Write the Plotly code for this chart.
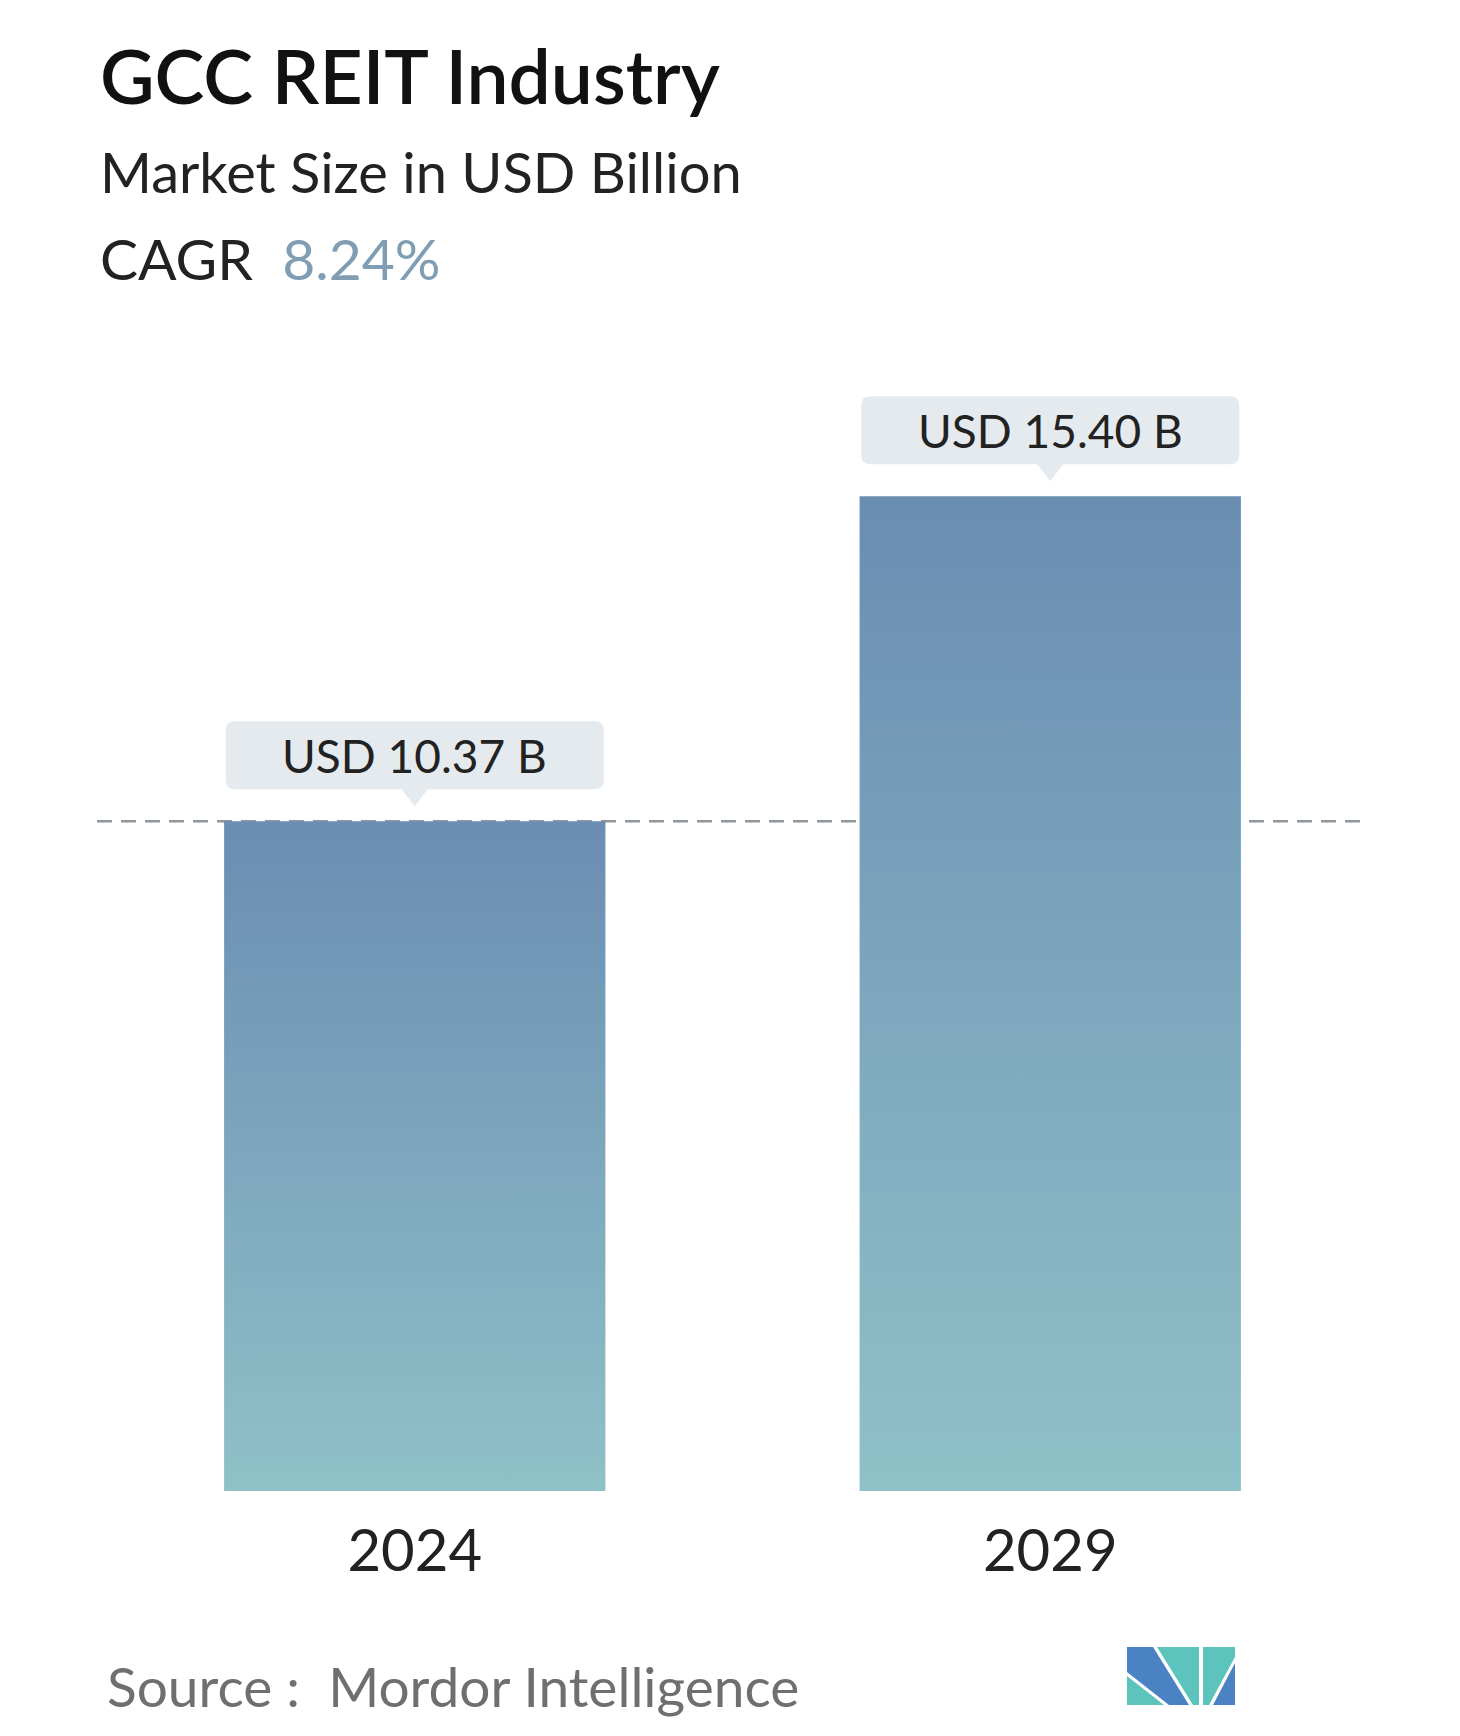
import plotly.graph_objects as go

# ---- data ----
years = ["2024", "2029"]
values = [10.37, 15.40]
labels = ["USD 10.37 B", "USD 15.40 B"]
title_text = "GCC REIT Industry"
subtitle_text = "Market Size in USD Billion"
cagr_label = "CAGR"
cagr_value = "8.24%"
source_text = "Source :  Mordor Intelligence"

# ---- layout geometry (pixels) ----
W, H = 1460, 1736
ML, MR, MT, MB = 97, 92, 300, 245
PW = W - ML - MR
PH = H - MT - MB
YMAX = 18.44
BAR_W = 0.6

def px2paper_x(px):
    return (px - ML) / PW

def px2paper_y(py):
    return (H - MB - py) / PH

FONT = "Lato"
TOP_C = "#6a8db2"
BOT_C = "#8fc1c8"

fig = go.Figure()

# bars drawn as filled polygons with vertical gradient
for i, v in enumerate(values):
    x0, x1 = i - BAR_W / 2, i + BAR_W / 2
    fig.add_trace(go.Scatter(
        x=[x0, x0, x1, x1, x0],
        y=[0, v, v, 0, 0],
        mode="lines",
        line=dict(width=0),
        fill="toself",
        fillgradient=dict(type="vertical", start=0, stop=v,
                          colorscale=[[0, BOT_C], [1, TOP_C]]),
        hoverinfo="skip",
        showlegend=False,
    ))

shapes = []
# dashed reference line at first value
shapes.append(dict(type="line", xref="paper", x0=0, x1=1, yref="y",
                   y0=values[0], y1=values[0], layer="below",
                   line=dict(color="#8f969d", width=2.5, dash="15px,9px")))

# callout boxes (pixel-sized, anchored at bar tops)
L, R, B, T, r, ph, tip = -189, 189, 32, 100, 9, 13, 15
callout = (f"M {L+r},{B} L {-ph},{B} L 0,{tip} L {ph},{B} L {R-r},{B} "
           f"Q {R},{B} {R},{B+r} L {R},{T-r} Q {R},{T} {R-r},{T} "
           f"L {L+r},{T} Q {L},{T} {L},{T-r} L {L},{B+r} Q {L},{B} {L+r},{B} Z")
for i, v in enumerate(values):
    shapes.append(dict(type="path", xref="x", yref="y",
                       xsizemode="pixel", ysizemode="pixel",
                       xanchor=i, yanchor=v, path=callout,
                       fillcolor="#e4eaee", line=dict(width=0)))

# logo (pixel-sized, anchored bottom-left)
logo_x, logo_y = px2paper_x(1127), px2paper_y(1705)
BLUE, TEAL = "#4b82c3", "#5cc3bd"
logo_polys = [
    ("M 0,29 L 0,0 L 37,0 Z", TEAL),
    ("M 0,58 L 26,58 L 62,0 L 42,0 L 0,33 Z", BLUE),
    ("M 30,58 L 72,58 L 72,0 L 66,0 Z", TEAL),
    ("M 76,58 L 108,58 L 108,48 L 82,0 L 76,0 Z", TEAL),
    ("M 108,42 L 108,0 L 86,0 Z", BLUE),
]
for p, c in logo_polys:
    shapes.append(dict(type="path", xref="paper", yref="paper",
                       xsizemode="pixel", ysizemode="pixel",
                       xanchor=logo_x, yanchor=logo_y, path=p,
                       fillcolor=c, line=dict(width=0)))

annotations = []
for i, v in enumerate(values):
    annotations.append(dict(x=i, y=v, xref="x", yref="y", text=labels[i],
                            showarrow=False, yshift=66, yanchor="middle",
                            font=dict(family=FONT, size=46, color="#222222")))

annotations += [
    dict(x=px2paper_x(98), y=px2paper_y(75), xref="paper", yref="paper",
         text=title_text, showarrow=False, xanchor="left", yanchor="middle",
         font=dict(family=FONT, size=75, color="#111111", weight=600)),
    dict(x=px2paper_x(98), y=px2paper_y(172), xref="paper", yref="paper",
         text=subtitle_text, showarrow=False, xanchor="left", yanchor="middle",
         font=dict(family=FONT, size=56, color="#222222")),
    dict(x=px2paper_x(98), y=px2paper_y(258), xref="paper", yref="paper",
         text=f"{cagr_label}&nbsp;&nbsp;<span style='color:#7f9db3'>{cagr_value}</span>",
         showarrow=False, xanchor="left", yanchor="middle",
         font=dict(family=FONT, size=57, color="#222222")),
    dict(x=px2paper_x(105), y=px2paper_y(1686), xref="paper", yref="paper",
         text=source_text, showarrow=False, xanchor="left", yanchor="middle",
         font=dict(family=FONT, size=55, color="#6f6f6f")),
]

fig.update_layout(
    width=W, height=H,
    margin=dict(l=ML, r=MR, t=MT, b=MB, pad=0),
    paper_bgcolor="white", plot_bgcolor="white",
    showlegend=False,
    xaxis=dict(range=[-0.5, 1.5], tickvals=[0, 1], ticktext=years,
               showgrid=False, zeroline=False, showline=False, ticks="",
               ticklabelstandoff=21,
               tickfont=dict(family=FONT, size=58, color="#222222"),
               fixedrange=True),
    yaxis=dict(range=[0, YMAX], visible=False, showgrid=False,
               zeroline=False, fixedrange=True),
    shapes=shapes,
    annotations=annotations,
)

fig.write_html("out.html", config={"displayModeBar": False})
